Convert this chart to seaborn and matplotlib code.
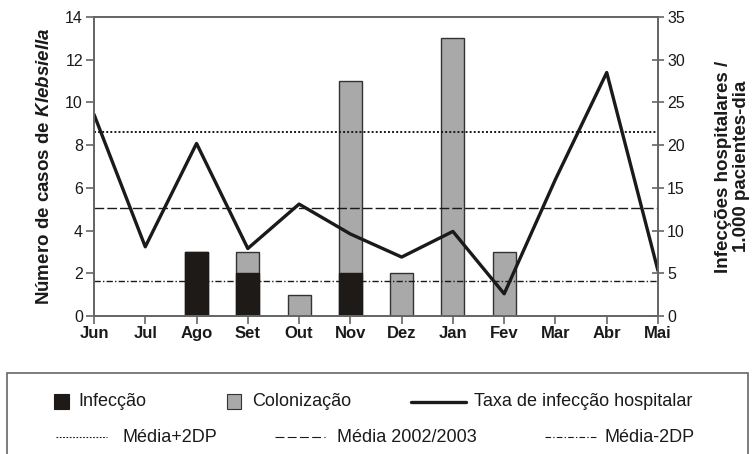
import numpy as np
import pandas as pd
import matplotlib
matplotlib.use("Agg")
import matplotlib.pyplot as plt
from matplotlib.lines import Line2D
from matplotlib.patches import Rectangle
import seaborn as sns

months = ["Jun", "Jul", "Ago", "Set", "Out", "Nov", "Dez", "Jan", "Fev", "Mar", "Abr", "Mai"]
infeccao = [0, 0, 3, 2, 0, 2, 0, 0, 0, 0, 0, 0]
colonizacao = [0, 0, 0, 1, 1, 9, 2, 13, 3, 0, 0, 0]
taxa = [23.6, 8.1, 20.2, 7.9, 13.1, 9.6, 6.9, 9.9, 2.6, 16.0, 28.5, 5.3]
media_mais_2dp = 21.5
media = 12.7
media_menos_2dp = 4.1
left_ticks = [0, 2, 4, 6, 8, 10, 12, 14]
right_ticks = [0, 5, 10, 15, 20, 25, 30, 35]

sns.set_theme(style="white")
plt.rcParams["font.family"] = ["Liberation Sans", "DejaVu Sans"]
plt.rcParams["mathtext.fontset"] = "custom"
plt.rcParams["mathtext.bfit"] = "Liberation Sans:italic:bold"
plt.rcParams["mathtext.it"] = "Liberation Sans:italic"
plt.rcParams["mathtext.rm"] = "Liberation Sans"

W, H = 753, 454
fig = plt.figure(figsize=(W / 100, H / 100), dpi=100)
ax = fig.add_axes([94 / W, 1 - 316 / H, (658 - 94) / W, (316 - 17) / H])

df = pd.DataFrame({"mes": months,
                   "total": np.array(infeccao) + np.array(colonizacao),
                   "inf": infeccao})
spine_c = "#666666"
txt_c = "#1a1a1a"
sns.barplot(data=df, x="mes", y="total", color="#a9a9a9", saturation=1,
            width=0.45, edgecolor="#333333", linewidth=1.0, ax=ax)
sns.barplot(data=df, x="mes", y="inf", color="#1e1a17", saturation=1,
            width=0.45, edgecolor="#1e1a17", linewidth=1.0, ax=ax)

ax.set_xlim(0, 11)
ax.set_ylim(0, 14)
ax.set_yticks(left_ticks)
ax.set_xticks(range(len(months)))
ax.set_xticklabels(months, fontweight="bold", fontsize=12, color=txt_c)
ax.set_xlabel("")
ax.set_ylabel(r"Número de casos de $\mathbfit{Klebsiella}$", fontweight="bold",
              fontsize=13.5, labelpad=9, color=txt_c)
ax.tick_params(axis="y", direction="out", length=6, width=1.2, color=spine_c,
               labelsize=11.5, labelcolor=txt_c, pad=2, left=True)
ax.tick_params(axis="x", direction="out", length=6, width=1.2, color=spine_c,
               pad=1, bottom=True)

ax2 = ax.twinx()
sns.lineplot(x=np.arange(len(months)), y=taxa, color="#1a1a1a", linewidth=2.4,
             ax=ax2)
ax2.axhline(media_mais_2dp, color="#1a1a1a", linewidth=1.4, dashes=(1, 1.1))
ax2.axhline(media, color="#1a1a1a", linewidth=1.0, dashes=(7, 2.2))
ax2.axhline(media_menos_2dp, color="#1a1a1a", linewidth=1.0, dashes=(4.5, 1.6, 1, 1.6))
ax2.set_ylim(0, 35)
ax2.set_xlim(0, 11)
ax2.set_yticks(right_ticks)
ax2.tick_params(axis="y", direction="inout", length=9, width=1.2, color=spine_c,
                labelsize=11.5, labelcolor=txt_c, pad=2, right=True)
ax2.set_ylabel("Infecções hospitalares /\n1.000 pacientes-dia", fontweight="bold",
               fontsize=13.5, linespacing=1.05, labelpad=22, color=txt_c)

for a in (ax, ax2):
    for s in a.spines.values():
        s.set_color(spine_c)
        s.set_linewidth(1.3)
        s.set_visible(True)

# legend box (drawn manually in figure pixel coordinates)
def fx(x):
    return x / W

def fy(y):
    return 1 - y / H

fig.patches.append(Rectangle((fx(6.7), fy(470)), fx(748) - fx(6.7), fy(373.3) - fy(470),
                             transform=fig.transFigure, facecolor="none",
                             edgecolor="#666666", linewidth=1.2))
r1, r2 = 401.7, 437
fs = 13
fig.patches.append(Rectangle((fx(54), fy(r1 + 7.5)), fx(15), 15 / H, transform=fig.transFigure,
                             facecolor="#1e1a17", edgecolor="#1e1a17", linewidth=0.8))
fig.text(fx(78), fy(r1), "Infecção", fontsize=fs, va="center", ha="left", color=txt_c)
fig.patches.append(Rectangle((fx(227), fy(r1 + 7.5)), fx(14), 15 / H, transform=fig.transFigure,
                             facecolor="#a9a9a9", edgecolor="#333333", linewidth=0.8))
fig.text(fx(252), fy(r1), "Colonização", fontsize=fs, va="center", ha="left", color=txt_c)
fig.lines.append(Line2D([fx(411), fx(466)], [fy(r1), fy(r1)], transform=fig.transFigure,
                        color="#1a1a1a", linewidth=2.4))
fig.text(fx(474), fy(r1), "Taxa de infecção hospitalar", fontsize=fs, va="center", ha="left",
         color=txt_c)

fig.lines.append(Line2D([fx(56), fx(107)], [fy(r2), fy(r2)], transform=fig.transFigure,
                        color="#1a1a1a", linewidth=0.8, dashes=(1.5, 1.5)))
fig.text(fx(122), fy(r2), "Média+2DP", fontsize=fs, va="center", ha="left", color=txt_c)
fig.lines.append(Line2D([fx(275), fx(325)], [fy(r2), fy(r2)], transform=fig.transFigure,
                        color="#1a1a1a", linewidth=0.8, dashes=(8, 3)))
fig.text(fx(337), fy(r2), "Média 2002/2003", fontsize=fs, va="center", ha="left", color=txt_c)
fig.lines.append(Line2D([fx(545), fx(596)], [fy(r2), fy(r2)], transform=fig.transFigure,
                        color="#1a1a1a", linewidth=0.8, dashes=(5, 2, 1.2, 2)))
fig.text(fx(605), fy(r2), "Média-2DP", fontsize=fs, va="center", ha="left", color=txt_c)

fig.savefig("out.png", dpi=100)
